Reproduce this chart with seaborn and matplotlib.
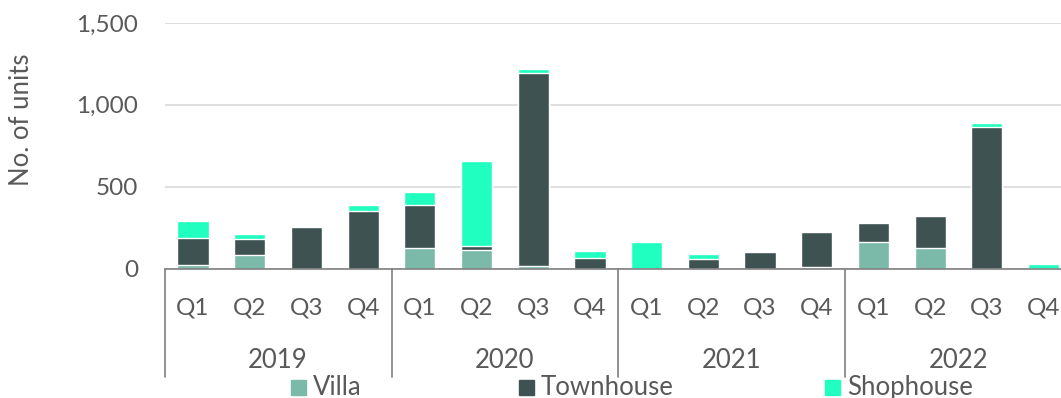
import numpy as np
import pandas as pd
import matplotlib
matplotlib.use("Agg")
import matplotlib.pyplot as plt
import matplotlib.transforms as mtransforms
from matplotlib.patches import Rectangle
import seaborn as sns

# Quarterly supply of landed units by product type
years = ["2019", "2020", "2021", "2022"]
quarters = ["Q1", "Q2", "Q3", "Q4"]
villa = [20, 80, 0, 0, 125, 110, 15, 0, 0, 0, 0, 10, 163, 126, 0, 0]
townhouse = [168, 98, 255, 350, 263, 29, 1177, 67, 0, 55, 98, 211, 113, 193, 865, 0]
shophouse = [102, 31, 0, 38, 82, 515, 29, 39, 163, 35, 0, 0, 0, 0, 22, 25]
series_names = ["Villa", "Townhouse", "Shophouse"]
y_ticks = [0, 500, 1000, 1500]

colors = {"Villa": "#7bb9a9", "Townhouse": "#3f5252", "Shophouse": "#20ffbf"}
text_color = "#595959"

periods = [f"{y} {q}" for y in years for q in quarters]
df = pd.DataFrame({"period": periods, "Villa": villa,
                   "Townhouse": townhouse, "Shophouse": shophouse})
df["vt"] = df["Villa"] + df["Townhouse"]
df["total"] = df["vt"] + df["Shophouse"]

sns.set_theme(style="white")
plt.rcParams["font.family"] = ["Lato", "DejaVu Sans"]

W, H = 1061, 398
fig = plt.figure(figsize=(W / 100, H / 100), dpi=100)
ax_left, ax_bottom, ax_top = 164.7, 268.5, 23.0
ax_w = 56.7 * len(periods)
ax = fig.add_axes([ax_left / W, 1 - ax_bottom / H, ax_w / W, (ax_bottom - ax_top) / H])

# stacked bars: draw cumulative totals from the top segment down
for col, name in [("total", "Shophouse"), ("vt", "Townhouse"), ("Villa", "Villa")]:
    sns.barplot(data=df, x="period", y=col, order=periods, color=colors[name],
                saturation=1, width=0.55, errorbar=None, ax=ax, zorder=3)

ax.set_xlim(-0.5, len(periods) - 0.5)
ax.set_ylim(0, 1500)
ax.set_yticks(y_ticks)
ax.set_yticklabels([f"{v:,}" for v in y_ticks])
ax.tick_params(axis="y", length=0, pad=19, labelsize=17.5, labelcolor=text_color)
ax.set_xticks([])
ax.set_xlabel("")
ax.set_ylabel("")
ax.grid(axis="y", color="#d9d9d9", linewidth=1.2, zorder=0)
for s in ["top", "right", "left"]:
    ax.spines[s].set_visible(False)
ax.spines["bottom"].set_color("#7f7f7f")
ax.spines["bottom"].set_linewidth(1.2)
ax.spines["bottom"].set_zorder(4)

# two-level category axis
trans = mtransforms.blended_transform_factory(ax.transData, fig.transFigure)
for i, p in enumerate(periods):
    ax.text(i, 1 - 308 / H, p.split()[1], transform=trans, ha="center", va="center",
            fontsize=17.5, color=text_color, clip_on=False)
for k, y in enumerate(years):
    ax.text(4 * k + 1.5, 1 - 361 / H, y, transform=trans, ha="center", va="center",
            fontsize=18.5, color=text_color, clip_on=False)
for k in range(len(years) + 1):
    ax.plot([4 * k - 0.5, 4 * k - 0.5], [1 - ax_bottom / H, 1 - 377 / H], transform=trans,
            color="#7f7f7f", linewidth=1.2, clip_on=False)

fig.text(22 / W, 1 - 120 / H, "No. of units", rotation=90, ha="center", va="center",
         fontsize=18.5, color=text_color)

# legend
legend_pos = {"Villa": 291, "Townhouse": 519, "Shophouse": 825}
for name in series_names:
    x0 = legend_pos[name]
    fig.patches.append(Rectangle((x0 / W, 1 - 395 / H), 15 / W, 15 / H,
                                 transform=fig.transFigure, color=colors[name]))
    fig.text((x0 + 22) / W, 1 - 395 / H, name, ha="left", va="baseline",
             fontsize=18.5, color=text_color)

fig.savefig("out.png", dpi=100)
